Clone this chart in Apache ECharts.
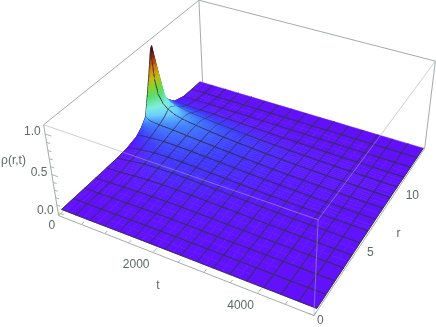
<!DOCTYPE html>
<html><head><meta charset="utf-8">
<style>html,body{margin:0;padding:0;background:#fff}#c{width:436px;height:327px}</style>
<script src="https://cdn.jsdelivr.net/npm/echarts@6/dist/echarts.min.js"></script>
</head><body><div id="c"></div>
<script>
// ---------- values ----------
const tRange = [0, 5000], rRange = [0, 14], zRange = [-0.04, 1.11];
const tTickLabels = [0, 2000, 4000], rTickLabels = [0, 5, 10], zTickLabels = ['0.0', '0.5', '1.0'];
const tKnots = [0,40,100,200,312.5,469,625,937.5,1250,1562.5,1875,2187.5,2500,2812.5,3125,3437.5,3750,4062.5,4375,4687.5,5000];
const tMesh  = [0,312.5,625,937.5,1250,1562.5,1875,2187.5,2500,2812.5,3125,3437.5,3750,4062.5,4375,4687.5,5000];
const rKnots = [0.28,1.24,2.2,3.16,4.12,5.08,6.04,6.5,7,7.5,7.96,8.3,8.6,8.92,9.05,9.3,9.6,9.88,10.3,10.84,11.8,12.76,13.72];
const rMesh  = [0.28,1.24,2.2,3.16,4.12,5.08,6.04,7,7.96,8.92,9.88,10.84,11.8,12.76,13.72];
const rho_t0    = [0,0,0,0,0,.002,.012,.03,.05,.11,.2,.46,.7,.98,1.02,.78,.52,.25,.15,.06,.01,.002,0];
const rho_t40   = [0,0,0,0,.001,.004,.02,.04,.065,.11,.18,.3,.45,.6,.63,.52,.37,.22,.14,.06,.01,.002,0];
const rho_t100  = [0,0,0,.001,.002,.008,.03,.05,.075,.115,.16,.22,.31,.41,.43,.37,.28,.19,.12,.06,.012,.002,0];
const rho_t200  = [0,0,0,.002,.005,.016,.04,.06,.085,.115,.15,.19,.24,.3,.31,.28,.23,.17,.11,.06,.014,.003,0];
const rho_t312  = [0,0,.001,.004,.01,.027,.052,.07,.09,.118,.145,.17,.2,.24,.25,.23,.2,.155,.1,.058,.015,.003,0];
const rho_t469  = [0,.001,.003,.008,.018,.04,.065,.08,.098,.12,.14,.155,.172,.192,.2,.19,.17,.14,.095,.055,.016,.003,0];
const rho_t625  = [0,.002,.006,.013,.027,.052,.075,.088,.103,.12,.135,.145,.155,.165,.17,.163,.15,.125,.09,.052,.016,.004,.001];
const rho_t938  = [.001,.004,.01,.021,.038,.06,.08,.09,.1,.112,.12,.127,.132,.137,.138,.134,.125,.108,.08,.048,.016,.004,.001];
const rho_t1250 = [.002,.006,.014,.026,.043,.062,.078,.086,.094,.1,.106,.11,.113,.115,.115,.112,.105,.093,.07,.044,.015,.004,.001];
const rho_t1562 = [.003,.008,.016,.028,.044,.06,.072,.078,.084,.089,.093,.095,.097,.098,.098,.095,.09,.08,.062,.04,.014,.004,.001];
const rho_t1875 = [.003,.009,.017,.028,.042,.055,.065,.07,.074,.078,.08,.082,.083,.083,.083,.08,.076,.068,.053,.035,.012,.003,.001];
const rho_t2188 = [.003,.009,.016,.026,.037,.048,.056,.06,.063,.066,.068,.069,.07,.07,.07,.068,.064,.057,.045,.03,.011,.003,.001];
const rho_t2500 = [.003,.008,.014,.023,.032,.041,.048,.051,.053,.055,.057,.057,.058,.058,.058,.056,.053,.047,.037,.025,.009,.003,.001];
const rho_t2812 = [.003,.007,.012,.019,.027,.034,.04,.042,.044,.046,.047,.047,.048,.048,.048,.046,.044,.039,.031,.021,.008,.002,.001];
const rho_t3125 = [.002,.006,.01,.016,.022,.028,.033,.035,.036,.038,.038,.039,.039,.039,.039,.038,.036,.032,.025,.017,.007,.002,.001];
const rho_t3438 = [.002,.005,.008,.013,.018,.023,.027,.028,.03,.031,.031,.032,.032,.032,.032,.031,.029,.026,.02,.014,.006,.002,0];
const rho_t3750 = [.001,.004,.007,.011,.015,.019,.022,.023,.024,.025,.025,.026,.026,.026,.026,.025,.023,.021,.016,.011,.005,.001,0];
const rho_t4062 = [.001,.003,.005,.009,.012,.015,.018,.019,.019,.02,.02,.021,.021,.021,.021,.02,.019,.017,.013,.009,.004,.001,0];
const rho_t4375 = [.001,.002,.004,.007,.01,.012,.014,.015,.015,.016,.016,.016,.016,.016,.016,.016,.015,.013,.01,.007,.003,.001,0];
const rho_t4688 = [0,.002,.003,.005,.008,.01,.011,.012,.012,.013,.013,.013,.013,.013,.013,.012,.012,.01,.008,.006,.002,.001,0];
const rho_t5000 = [0,.001,.003,.004,.006,.008,.009,.01,.01,.01,.01,.01,.01,.01,.01,.01,.009,.008,.006,.004,.002,.001,0];
const rhoRows = [rho_t0,rho_t40,rho_t100,rho_t200,rho_t312,rho_t469,rho_t625,rho_t938,rho_t1250,rho_t1562,rho_t1875,rho_t2188,rho_t2500,rho_t2812,rho_t3125,rho_t3438,rho_t3750,rho_t4062,rho_t4375,rho_t4688,rho_t5000];

// ---------- camera: fitted to where the eight box corners fall on screen ----------
const boxCorners = [
  [0,0,0, 58.3,215.7],[1,0,0, 314,315],[1,1,0, 425,148],[0,1,0, 202.5,83],
  [0,0,1, 44,124],[1,0,1, 318,221],[1,1,1, 435,61],[0,1,1, 199,0]];
function fitCamera(pts){
  const A=[],B=[];
  pts.forEach(([u,v,w,x,y])=>{
    A.push([u,v,w,1,0,0,0,0,-x*u,-x*v,-x*w]);B.push(x);
    A.push([0,0,0,0,u,v,w,1,-y*u,-y*v,-y*w]);B.push(y);
  });
  const n=11,M=[];
  for(let i=0;i<n;i++){M.push([]);for(let j=0;j<=n;j++){let s=0;
    for(let k=0;k<A.length;k++)s+=A[k][i]*(j<n?A[k][j]:B[k]);M[i].push(s);}}
  for(let c=0;c<n;c++){let p=c;for(let r=c+1;r<n;r++)if(Math.abs(M[r][c])>Math.abs(M[p][c]))p=r;
    [M[c],M[p]]=[M[p],M[c]];
    for(let r=0;r<n;r++)if(r!==c){const f=M[r][c]/M[c][c];for(let j=c;j<=n;j++)M[r][j]-=f*M[c][j];}}
  return M.map((row,i)=>row[n]/row[i]);
}
const cam=fitCamera(boxCorners);
function proj(t,r,z){
  const u=(t-tRange[0])/(tRange[1]-tRange[0]),v=(r-rRange[0])/(rRange[1]-rRange[0]),w=(z-zRange[0])/(zRange[1]-zRange[0]);
  const d=cam[8]*u+cam[9]*v+cam[10]*w+1;
  return [(cam[0]*u+cam[1]*v+cam[2]*w+cam[3])/d,(cam[4]*u+cam[5]*v+cam[6]*w+cam[7])/d];
}
// ---------- colour ----------
const colourStops=[[0,98,16,252],[.035,90,26,255],[.08,62,58,255],[.14,62,125,255],[.2,105,205,255],[.28,125,238,225],[.4,90,220,110],[.5,130,210,50],[.6,190,190,20],[.72,220,130,10],[.85,170,50,10],[.95,90,20,10],[1,40,10,10]];
function colour(z){
  z=Math.max(0,Math.min(1,z));
  for(let i=1;i<colourStops.length;i++){const a=colourStops[i-1],b=colourStops[i];
    if(z<=b[0]){const f=(z-a[0])/(b[0]-a[0]);
      return 'rgb('+[1,2,3].map(c=>Math.round(a[c]+(b[c]-a[c])*f)).join(',')+')';}}
  return 'rgb(40,10,10)';
}
// ---------- surface cells, far to near ----------
const cellData=[];
for(let i=0;i<tKnots.length-1;i++){
  for(let j=rKnots.length-2;j>=0;j--){
    const q=[rhoRows[i][j],rhoRows[i][j+1],rhoRows[i+1][j],rhoRows[i+1][j+1]];
    const span=Math.max(...q)-Math.min(...q);
    const n=span>.02?5:span>.003?2:1;
    for(let a=0;a<n;a++)for(let b=n-1;b>=0;b--)cellData.push([i,j,a,b,n]);
  }
}
const MESH='#33303f';
function bil(i,j,s,p){
  const R=rhoRows;
  return (1-s)*((1-p)*R[i][j]+p*R[i][j+1])+s*((1-p)*R[i+1][j]+p*R[i+1][j+1]);
}
function renderCell(params,api){
  const i=api.value(0),j=api.value(1),a=api.value(2),b=api.value(3),n=api.value(4);
  const s0=a/n,s1=(a+1)/n,p0=b/n,p1=(b+1)/n;
  const T=s=>tKnots[i]+(tKnots[i+1]-tKnots[i])*s, Rr=p=>rKnots[j]+(rKnots[j+1]-rKnots[j])*p;
  const P=(s,p)=>proj(T(s),Rr(p),bil(i,j,s,p));
  const pts=[P(s0,p0),P(s0,p1),P(s1,p1),P(s1,p0)];
  const zc=bil(i,j,(s0+s1)/2,(p0+p1)/2), col=colour(zc);
  const kids=[{type:'polygon',silent:true,shape:{points:pts},style:{fill:col,stroke:col,lineWidth:.6}}];
  const seg=(A,B,w)=>kids.push({type:'line',silent:true,shape:{x1:A[0],y1:A[1],x2:B[0],y2:B[1]},style:{stroke:MESH,lineWidth:w||.9}});
  if(a===0&&tMesh.includes(tKnots[i])) seg(pts[0],pts[1]);
  if(a===n-1&&tMesh.includes(tKnots[i+1])) seg(pts[3],pts[2]);
  if(b===0&&rMesh.includes(rKnots[j])) seg(pts[0],pts[3]);
  if(b===n-1&&rMesh.includes(rKnots[j+1])&&j+1<rKnots.length-1) seg(pts[1],pts[2]);
  return {type:'group',children:kids};
}
// ---------- box and axis marks ----------
const EDGE='#a3abab';
const backEdges=[[0,1,1,1,1,1],[0,1,1,0,0,1],[0,1,1,0,1,0],[1,1,1,1,1,0],[0,0,0,1,0,0],[1,0,0,1,1,0],[0,0,0,0,0,1]];
const frontEdges=[[0,0,1,1,0,1],[1,0,1,1,1,1],[1,0,1,1,0,0]];
const U=(a)=>[tRange[0]+a[0]*(tRange[1]-tRange[0]),rRange[0]+a[1]*(rRange[1]-rRange[0]),zRange[0]+a[2]*(zRange[1]-zRange[0])];
function edgeRender(list,stroke){
  return function(params,api){
    const e=list[api.value(0)];
    const A=proj(...U(e.slice(0,3))),B=proj(...U(e.slice(3)));
    return {type:'line',silent:true,shape:{x1:A[0],y1:A[1],x2:B[0],y2:B[1]},style:{stroke,lineWidth:1}};
  };
}
const tTicks=[0,500,1000,1500,2000,2500,3000,3500,4000,4500,5000];
const rTicks=[0,1,2,3,4,5,6,7,8,9,10,11,12,13,14];
const zTicks=[0,.1,.2,.3,.4,.5,.6,.7,.8,.9,1];
const tickData=[];
tTicks.forEach(v=>tickData.push(['t',v]));rTicks.forEach(v=>tickData.push(['r',v]));zTicks.forEach(v=>tickData.push(['z',v]));
function renderTick(params){
  const [k,v]=tickData[params.dataIndex];let A,B;
  const z0=zRange[0];
  if(k==='t'){const major=v%2000===0;A=proj(v,0,z0);B=proj(v,major?.35:.22,z0);}
  else if(k==='r'){const major=v%5===0;A=proj(5000,v,z0);B=proj(5000-(major?110:60),v,z0);}
  else{const major=Math.abs(v*2-Math.round(v*2))<1e-6;A=proj(0,0,v);B=proj(major?130:75,0,v);}
  return {type:'line',silent:true,shape:{x1:A[0],y1:A[1],x2:B[0],y2:B[1]},style:{stroke:k==='r'?'rgba(150,158,158,.55)':EDGE,lineWidth:.9}};
}
// ---------- labels ----------
const labelData=[];
tTickLabels.forEach(v=>labelData.push({text:String(v),at:[v,0,zRange[0]],dx:-3.5,dy:v===0?10:12,align:'right'}));
rTickLabels.forEach((v,n)=>labelData.push({text:String(v),at:[5000,v,zRange[0]],dx:[3,8,8][n],dy:[5,5,6][n],align:'left'}));
zTickLabels.forEach(v=>labelData.push({text:v,at:[0,0,+v],dx:-4.5,dy:-2,align:'right'}));
const titles=[{text:'\u03c1(r,t)',x:13.5,y:161},{text:'t',x:158,y:286},{text:'r',x:398.5,y:234}];
function renderLabel(params){
  const l=labelData[params.dataIndex];const p=proj(...l.at);
  return {type:'text',silent:true,style:{x:p[0]+l.dx,y:p[1]+l.dy,text:l.text,align:l.align,verticalAlign:'middle',fill:'#5f6868',font:'12px "Liberation Sans"'}};
}
function renderTitle(params){
  const l=titles[params.dataIndex];
  return {type:'text',silent:true,style:{x:l.x,y:l.y,text:l.text,align:'center',verticalAlign:'middle',fill:'#5f6868',font:'12px "Liberation Sans"'}};
}
const chart=echarts.init(document.getElementById('c'),null,{renderer:'canvas',width:436,height:327});
const cust=(name,z,data,renderItem)=>({type:'custom',name,coordinateSystem:'none',z,silent:true,animation:false,progressive:0,clip:false,data,renderItem});
chart.setOption({
  animation:false,backgroundColor:'#fff',
  series:[
    cust('box back',1,backEdges.map((e,i)=>[i]),edgeRender(backEdges,EDGE)),
    cust('ticks',2,tickData.map((d,i)=>[i]),renderTick),
    cust('rho surface',3,cellData,renderCell),
    cust('box front',4,frontEdges.map((e,i)=>[i]),edgeRender(frontEdges,'rgba(165,165,175,.55)')),
    cust('tick labels',5,labelData.map((d,i)=>[i]),renderLabel),
    cust('axis labels',5,titles.map((d,i)=>[i]),renderTitle)
  ]
});
</script></body></html>
